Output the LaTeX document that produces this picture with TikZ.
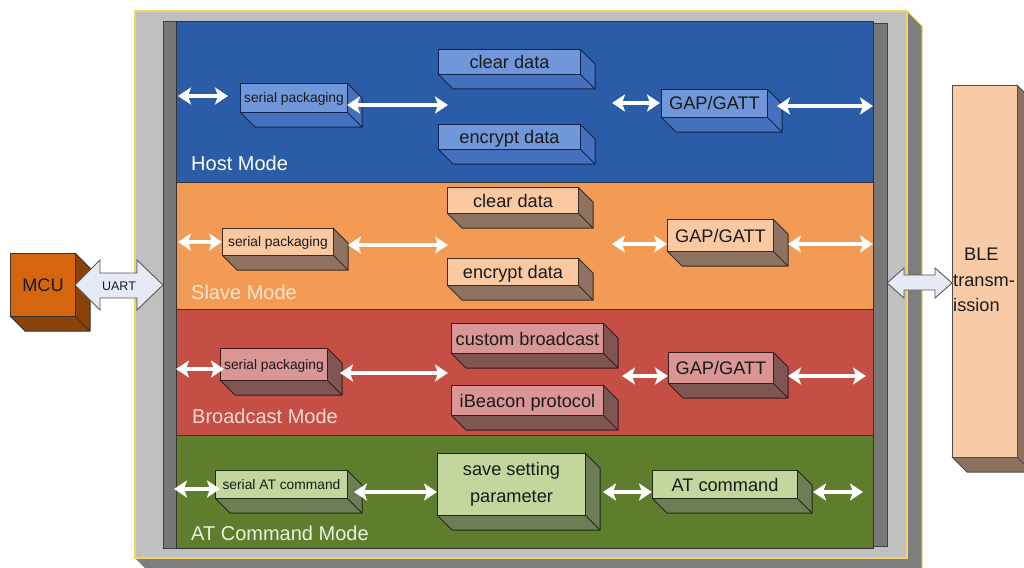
\documentclass[tikz,border=0pt]{standalone}
\usepackage{fontspec}
\setmainfont{Liberation Sans}
\usetikzlibrary{arrows.meta,calc}
\definecolor{hostband}{HTML}{2A5CA7}
\definecolor{hostfront}{HTML}{6F97D9}
\definecolor{hostside}{HTML}{4470BE}
\definecolor{hostline}{HTML}{13244A}
\definecolor{slaveband}{HTML}{F39B55}
\definecolor{slavefront}{HTML}{FAC9A2}
\definecolor{slaveside}{HTML}{8E7363}
\definecolor{slaveline}{HTML}{3A2A20}
\definecolor{bcband}{HTML}{C54E45}
\definecolor{bcfront}{HTML}{D99694}
\definecolor{bcside}{HTML}{805654}
\definecolor{bcline}{HTML}{3A1A18}
\definecolor{atband}{HTML}{5E7E2E}
\definecolor{atfront}{HTML}{C3D69B}
\definecolor{atside}{HTML}{6D7D56}
\definecolor{atline}{HTML}{1E2A12}
\definecolor{mcufront}{HTML}{D5650F}
\definecolor{mcuside}{HTML}{8A420B}
\definecolor{blefront}{HTML}{F9CAA6}
\definecolor{bleside}{HTML}{8E705E}
\definecolor{framegray}{HTML}{C0C0C0}
\definecolor{framedark}{HTML}{7E7E7E}
\definecolor{frameyellow}{HTML}{F1D36B}
\definecolor{bargray}{HTML}{777777}
\definecolor{blockarrow}{HTML}{E4EBF6}
\definecolor{txt}{HTML}{1A1A1A}
\newcommand\tdbox[8]{%
  \filldraw[#6 side] (#2,#5) -- ({#2+15},{#5+15}) -- ({#4+15},{#5+15}) -- ({#4+15},{#3+15}) -- (#4,#3) -- (#4,#5) -- cycle;
  \draw[#6 side] (#4,#5) -- ({#4+15},{#5+15});
  \node[#6 front, #8, anchor=north west, minimum width={(#4-#2)*1pt}, minimum height={(#5-#3)*1pt}] (#1) at (#2,#3) {#7};
}
\begin{document}
\begin{tikzpicture}[x=1pt,y=-1pt,
  bigf/.style={font=\fontsize{18.2}{27}\selectfont, text height=13pt, text depth=0pt},
  twof/.style={font=\fontsize{18.2}{27}\selectfont, align=center},
  smallf/.style={font=\fontsize{13.8}{16}\selectfont, text height=9.9pt, text depth=0pt},
  modef/.style={font=\fontsize{20}{24}\selectfont, anchor=base west, inner sep=0pt},
  boxbase/.style={rectangle, inner sep=0pt, line width=1pt, text=txt},
  host front/.style={boxbase, fill=hostfront, draw=hostline},
  host side/.style={fill=hostside, draw=hostline, line width=1pt, line join=round},
  slave front/.style={boxbase, fill=slavefront, draw=slaveline},
  slave side/.style={fill=slaveside, draw=slaveline, line width=1pt, line join=round},
  bc front/.style={boxbase, fill=bcfront, draw=bcline},
  bc side/.style={fill=bcside, draw=bcline, line width=1pt, line join=round},
  at front/.style={boxbase, fill=atfront, draw=atline},
  at side/.style={fill=atside, draw=atline, line width=1pt, line join=round},
  mcu front/.style={boxbase, fill=mcufront, draw=black!80},
  mcu side/.style={fill=mcuside, draw=black!80, line width=1pt, line join=round},
  ble front/.style={boxbase, fill=blefront, draw=black!70},
  ble side/.style={fill=bleside, draw=black!70, line width=1pt, line join=round},
  band/.style={draw=black!80, line width=0.8pt},
  warr/.style={white, line width=3.8pt, >={Stealth[length=13pt,width=17pt,inset=3pt]}, <->},
  blk/.style={fill=blockarrow, draw=black!65, line width=0.9pt, line join=miter},
]
\useasboundingbox (0,0) rectangle (1024,567);

% outer frame
\fill[framedark] (135,558) -- (907,558) -- (907,11) -- (922,26) -- (922,573) -- (150,573) -- cycle;
\draw[frameyellow, line width=1pt] (907,11) -- (922,26) -- (922,573);
\filldraw[fill=framegray, draw=frameyellow, line width=1.6pt] (135,11) rectangle (907,558);

% side bars
\filldraw[fill=bargray, draw=black!75, line width=0.7pt] (163,21) rectangle (176,548);
\filldraw[fill=bargray, draw=black!75, line width=0.7pt] (873,23) rectangle (887,546);

% bands
\filldraw[band, fill=hostband] (176,21) rectangle (873,182);
\filldraw[band, fill=slaveband] (176,182) rectangle (873,309);
\filldraw[band, fill=bcband] (176,309) rectangle (873,435);
\filldraw[band, fill=atband] (176,435) rectangle (873,548);

% mode labels
\node[modef, text=white] (hostlbl) at (191,170) {Host Mode};
\node[modef, text={rgb,255:red,253;green,230;blue,210}] (slavelbl) at (191,299) {Slave Mode};
\node[modef, text={rgb,255:red,249;green,218;blue,214}] (bclbl) at (192,423) {Broadcast Mode};
\node[modef, text={rgb,255:red,234;green,241;blue,221}] (atlbl) at (191,540) {AT Command Mode};

% host boxes
\tdbox{hsp}{240}{83}{347}{112}{host}{serial packaging}{smallf}
\tdbox{hcd}{438}{49}{580}{74}{host}{clear data}{bigf}
\tdbox{hed}{438}{124}{580}{149}{host}{encrypt data}{bigf}
\tdbox{hgg}{661}{89}{767}{117}{host}{GAP/GATT}{bigf}
% slave boxes
\tdbox{ssp}{222}{228}{333}{255}{slave}{serial packaging}{smallf}
\tdbox{scd}{447}{187}{578}{213}{slave}{clear data}{bigf}
\tdbox{sed}{447}{258}{578}{285}{slave}{encrypt data}{bigf}
\tdbox{sgg}{667}{219}{773}{251}{slave}{GAP/GATT}{bigf}
% broadcast boxes
\tdbox{bsp}{220}{348}{327}{380}{bc}{serial packaging}{smallf}
\tdbox{bcb}{451}{323}{603}{353}{bc}{custom broadcast}{bigf}
\tdbox{bib}{451}{385}{603}{415}{bc}{iBeacon protocol}{bigf}
\tdbox{bgg}{668}{352}{773}{383}{bc}{GAP/GATT}{bigf}
% AT boxes
\tdbox{asp}{215}{470}{347}{498}{at}{serial AT command}{smallf}
\tdbox{ass}{437}{453}{585}{515}{at}{save setting\\parameter}{twof}
\tdbox{aat}{652}{470}{797}{498}{at}{AT command}{bigf}

% MCU and BLE
\tdbox{mcu}{10}{253}{75}{316}{mcu}{MCU}{bigf}
\tdbox{ble}{952}{85}{1017}{457}{ble}{}{bigf}
\node[font=\fontsize{18.2}{25.5}\selectfont, align=left, anchor=north west, inner sep=0pt, text=txt] (bletxt) at (953,248) {\hspace*{11pt}BLE\\transm-\\ission};

% arrow end coordinates
\coordinate (h1a) at (178,96);  \coordinate (h1b) at (228,96);
\coordinate (h2a) at (347,105); \coordinate (h2b) at (448,105);
\coordinate (h3a) at (612,103); \coordinate (h3b) at (660,103);
\coordinate (h4a) at (777,106); \coordinate (h4b) at (873,106);
\coordinate (s1a) at (178,242); \coordinate (s1b) at (222,242);
\coordinate (s2a) at (348,245); \coordinate (s2b) at (448,245);
\coordinate (s3a) at (612,244); \coordinate (s3b) at (667,244);
\coordinate (s4a) at (788,244); \coordinate (s4b) at (873,244);
\coordinate (b1a) at (176,369); \coordinate (b1b) at (224,369);
\coordinate (b2a) at (340,373); \coordinate (b2b) at (448,373);
\coordinate (b3a) at (622,376); \coordinate (b3b) at (668,376);
\coordinate (b4a) at (788,376); \coordinate (b4b) at (866,376);
\coordinate (a1a) at (174,489); \coordinate (a1b) at (220,489);
\coordinate (a2a) at (354,492); \coordinate (a2b) at (437,492);
\coordinate (a3a) at (603,492); \coordinate (a3b) at (652,492);
\coordinate (a4a) at (813,492); \coordinate (a4b) at (863,492);
\foreach \p in {h1,h2,h3,h4,s1,s2,s3,s4,b1,b2,b3,b4,a1,a2,a3,a4}
  \draw[warr] (\p a) -- (\p b);

% UART block arrow
\filldraw[blk] (75,285) -- (100,260) -- (100,273) -- (137,273) -- (137,260) -- (163,285)
  -- (137,310) -- (137,298) -- (100,298) -- (100,310) -- cycle;
\node[font=\fontsize{12.5}{14}\selectfont, text=txt, inner sep=0pt] (uart) at (119,286) {UART};

% BLE block arrow
\filldraw[blk] (887,283) -- (904,268) -- (904,275) -- (935,275) -- (935,268) -- (952,283)
  -- (935,298) -- (935,290) -- (904,290) -- (904,298) -- cycle;
\end{tikzpicture}
\end{document}
